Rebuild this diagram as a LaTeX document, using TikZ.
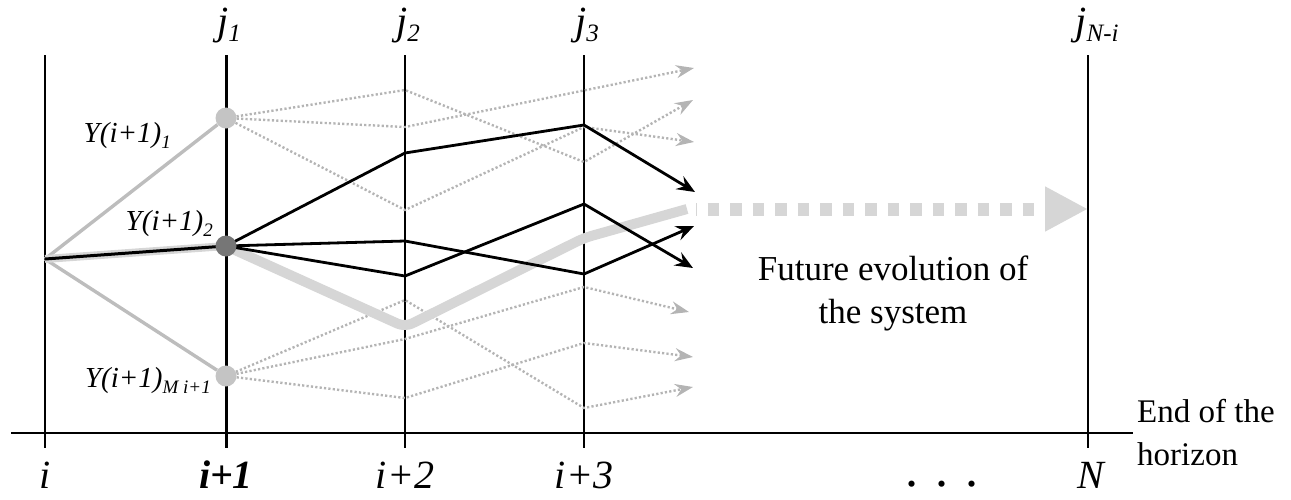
\documentclass[tikz,border=0pt]{standalone}
\usepackage{fontspec}
\setmainfont{Liberation Serif}
\usetikzlibrary{arrows.meta}
\definecolor{lgray}{HTML}{BDBDBD}
\definecolor{dgr}{HTML}{B4B4B4}
\definecolor{band}{HTML}{D6D6D6}
\definecolor{nlight}{HTML}{C4C4C4}
\definecolor{ndark}{HTML}{767676}
\newcommand{\bigf}{\fontsize{40}{44}\selectfont}
\newcommand{\jsub}[1]{\textit{j}\raisebox{-7pt}{\fontsize{25}{25}\selectfont\textit{#1}}}
\newcommand{\ysub}[1]{\textit{Y(i+1)}\raisebox{-6pt}{\fontsize{19}{19}\selectfont\textit{#1}}}
\begin{document}
\begin{tikzpicture}[x=1pt,y=-1pt,
  vl/.style={line width=2.3pt},
  gline/.style={draw=lgray, line width=3.4pt},
  blk/.style={line width=2.8pt, line join=miter, -{Stealth[length=18pt,width=15pt,inset=6.5pt]}},
  dotg/.style={draw=dgr, line width=2.4pt, dash pattern=on 2.2pt off 2.2pt,
     -{Stealth[length=18pt,width=13pt,inset=6pt,fill=dgr]}},
  dot/.style={circle, inner sep=0pt, minimum size=21pt},
  lab/.style={inner sep=0pt, anchor=base},
]
\useasboundingbox (0,0) rectangle (1291,499);
% vertical lines
\foreach \n/\x in {a/45,b/226,c/405,d/584,e/1088}{
  \coordinate (t\n) at (\x,55);
  \coordinate (b\n) at (\x,448);
}
\draw[vl] (ta) -- (ba);
\draw[line width=3pt] (tb) -- (bb);
\draw[vl] (tc) -- (bc);
\draw[vl] (td) -- (bd);
\draw[vl] (te) -- (be);
% axis
\coordinate (ax0) at (11,433);
\coordinate (ax1) at (1133,433);
\draw[line width=2.4pt] (ax0) -- (ax1);

% nodes
\coordinate (S) at (45,259);
\node[dot] (y1) at (226,118) {};
\node[dot] (y2) at (226,246) {};
\node[dot] (ym) at (226,376) {};

% dotted path points
\coordinate (a1) at (405,127); \coordinate (a2) at (694,68);
\coordinate (b1) at (405,90);  \coordinate (b2) at (584,162); \coordinate (b3) at (693,100);
\coordinate (c1) at (405,210); \coordinate (c2) at (584,127); \coordinate (c3) at (694,142);
\coordinate (d1) at (405,300); \coordinate (d2) at (584,408); \coordinate (d3) at (693,387);
\coordinate (e1) at (405,339); \coordinate (e2) at (584,287); \coordinate (e3) at (689,312);
\coordinate (f1) at (405,398); \coordinate (f2) at (584,343); \coordinate (f3) at (693,357);
\draw[dotg] (y1) -- (a1) -- (a2);
\draw[dotg] (y1) -- (b1) -- (b2) -- (b3);
\draw[dotg] (y1) -- (c1) -- (c2) -- (c3);
\draw[dotg] (ym) -- (d1) -- (d2) -- (d3);
\draw[dotg] (ym) -- (e1) -- (e2) -- (e3);
\draw[dotg] (ym) -- (f1) -- (f2) -- (f3);

% thick gray band
\coordinate (g1) at (405,327);
\coordinate (g2) at (584,238);
\coordinate (g3) at (687,209);
\coordinate (g4) at (696,209);
\coordinate (gN) at (1088,209);
\draw[band, line width=10pt, line join=round, rounded corners=8pt] (y2.center) -- (g1) -- (g2) -- (g3);
\draw[band, line width=13pt, dash pattern=on 11.7pt off 10.8pt, dash phase=10.8pt,
  -{Triangle[length=43pt,width=42pt,fill=band]}] (g4) -- (gN);

% gray lines from start
\draw[gline] (S) -- (y1);
\draw[gline] (S) -- (ym);
\draw[band, line width=8pt] (S) -- (y2.center);
\draw[line width=3pt] (S) -- (y2.center);

% black paths
\coordinate (p1) at (405,153); \coordinate (p2) at (584,125); \coordinate (p3) at (695,192);
\coordinate (q1) at (405,241); \coordinate (q2) at (584,274); \coordinate (q3) at (694,226);
\coordinate (r1) at (405,276); \coordinate (r2) at (584,204); \coordinate (r3) at (693,268);
\draw[blk] (y2.center) -- (p1) -- (p2) -- (p3);
\draw[blk] (y2.center) -- (q1) -- (q2) -- (q3);
\draw[blk] (y2.center) -- (r1) -- (r2) -- (r3);

% node discs on top
\node[dot, fill=nlight] at (y1) {};
\node[dot, fill=ndark] at (y2) {};
\node[dot, fill=nlight] at (ym) {};

% labels
\node[lab] (lj1) at (229,34) {\bigf\jsub{1}};
\node[lab] (lj2) at (408,34) {\bigf\jsub{2}};
\node[lab] (lj3) at (587,34) {\bigf\jsub{3}};
\node[lab] (ljn) at (1097,34) {\bigf\jsub{N-i}};

\node[lab, anchor=base east] (ly1) at (171,142) {\fontsize{29}{32}\selectfont\ysub{1}};
\node[lab, anchor=base east] (ly2) at (213,230) {\fontsize{29}{32}\selectfont\ysub{2}};
\node[lab, anchor=base east] (lym) at (211,387) {\fontsize{29}{32}\selectfont\ysub{M i+1}};

\node[lab] (li) at (45,488) {\bigf\textit{i}};
\node[lab] (li1) at (226,488) {\bigf\textbf{\textit{i+1}}};
\node[lab] (li2) at (405,488) {\bigf\textit{i+2}};
\node[lab] (li3) at (584,488) {\bigf\textit{i+3}};
\node[lab] (lN) at (1092,488) {\bigf\textit{N}};
\node[lab] (ldots) at (942,486) {\fontsize{52}{52}\selectfont.\hspace{17pt}.\hspace{17pt}.};

\node[inner sep=0pt, align=center, font=\fontsize{35}{43}\selectfont] (fut) at (893,293)
  {Future evolution of\\the system};
\node[inner sep=0pt, align=left, anchor=north west, font=\fontsize{33}{43}\selectfont] (end) at (1137,399)
  {End of the\\horizon};
\end{tikzpicture}
\end{document}
